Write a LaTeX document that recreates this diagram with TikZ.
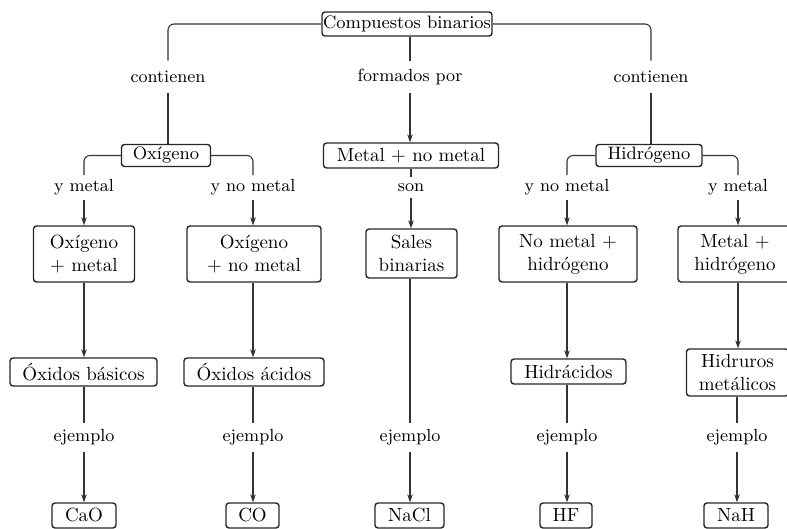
\documentclass[tikz,border=0pt]{standalone}
\usetikzlibrary{arrows.meta}
\begin{document}
\begin{tikzpicture}[x=0.5pt,y=-0.5pt,
  box/.style={draw=black!85, line width=0.7pt, rounded corners=1.5pt, inner sep=0pt, align=center},
  bigbox/.style={box, font=\fontsize{9.5}{11.6}\selectfont},
  smallbox/.style={box, font=\fontsize{9}{11}\selectfont},
  lab/.style={inner sep=0pt, font=\fontsize{8.8}{10.5}\selectfont},
  conn/.style={draw=black!80, line width=0.55pt},
  arr/.style={conn, -{Stealth[length=4pt,width=2.8pt]}},
  corner/.style={conn, rounded corners=3pt}]
\useasboundingbox (0,0) rectangle (787,529);
% level 0
\node[smallbox, minimum width=85pt, minimum height=12pt] (comp) at (407,24) {Compuestos binarios};
% labels level 1
\node[lab, minimum height=16pt] (contL) at (168,77) {contienen};
\node[lab, minimum height=16pt] (form) at (410,77) {formados por};
\node[lab, minimum height=16pt] (contR) at (651,77) {contienen};
% level 1 boxes
\node[smallbox, minimum width=44.5pt, minimum height=11pt] (oxi) at (166,155.5) {Oxígeno};
\node[bigbox, minimum width=87.5pt, minimum height=12.5pt] (mnm) at (411,155.5) {Metal + no metal};
\node[smallbox, minimum width=53pt, minimum height=11pt] (hid) at (649,155.5) {Hidrógeno};
% labels level 2
\node[lab, minimum height=12pt] (ymL) at (84,187.5) {y metal};
\node[lab, minimum height=12pt] (ynL) at (253,187.5) {y no metal};
\node[lab, minimum height=10.5pt] (son) at (411,187.5) {son};
\node[lab, minimum height=12pt] (ynR) at (567,187.5) {y no metal};
\node[lab, minimum height=12pt] (ymR) at (738,187.5) {y metal};
% level 2 boxes
\node[bigbox, minimum width=50.5pt, minimum height=28pt] (oxm) at (84,254) {Oxígeno\\+ metal};
\node[bigbox, minimum width=67pt, minimum height=28pt] (oxnm) at (254,254) {Oxígeno\\+ no metal};
\node[bigbox, minimum width=45.5pt, minimum height=24.5pt] (sales) at (411.5,253.5) {Sales\\binarias};
\node[bigbox, minimum width=69pt, minimum height=28pt] (nmh) at (568,254) {No metal +\\hidrógeno};
\node[bigbox, minimum width=57pt, minimum height=28pt] (mh) at (735,254) {Metal +\\hidrógeno};
% level 3 boxes
\node[bigbox, minimum width=73.5pt, minimum height=14pt] (obas) at (83.5,372) {Óxidos básicos};
\node[bigbox, minimum width=70pt, minimum height=14pt] (oac) at (254,372) {Óxidos ácidos};
\node[bigbox, minimum width=57.5pt, minimum height=12.5pt] (hac) at (568.5,371.5) {Hidrácidos};
\node[bigbox, minimum width=51pt, minimum height=23.5pt] (hmet) at (737.5,372.5) {Hidruros\\metálicos};
% ejemplo labels
\node[lab, minimum height=14.5pt] (e1) at (84,437.5) {ejemplo};
\node[lab, minimum height=14.5pt] (e2) at (253,437.5) {ejemplo};
\node[lab, minimum height=14.5pt] (e3) at (410,437.5) {ejemplo};
\node[lab, minimum height=14.5pt] (e4) at (567,437.5) {ejemplo};
\node[lab, minimum height=14.5pt] (e5) at (737,437.5) {ejemplo};
% bottom boxes
\node[bigbox, minimum width=32pt, minimum height=12.5pt] (cao) at (84,515.5) {CaO};
\node[bigbox, minimum width=26.5pt, minimum height=12.5pt] (co) at (252.5,515.5) {CO};
\node[bigbox, minimum width=34.5pt, minimum height=12.5pt] (nacl) at (409.5,515.5) {NaCl};
\node[bigbox, minimum width=26pt, minimum height=12.5pt] (hf) at (566,515.5) {HF};
\node[bigbox, minimum width=32pt, minimum height=12.5pt] (nah) at (736,515.5) {NaH};
% connectors level 0 -> 1
\draw[corner] (comp.west) -| (contL.north);
\draw[conn] (contL.south) -- (contL.south |- oxi.north);
\draw[conn] (form.north |- comp.south) -- (form.north);
\draw[arr] (form.south) -- (form.south |- mnm.north);
\draw[corner] (comp.east) -| (contR.north);
\draw[conn] (contR.south) -- (contR.south |- hid.north);
% level 1 -> 2
\draw[corner] (oxi.west) -| (ymL.north);
\draw[corner] (oxi.east) -| (ynL.north);
\draw[conn] (son.north |- mnm.south) -- (son.north);
\draw[corner] (hid.west) -| (ynR.north);
\draw[corner] (hid.east) -| (ymR.north);
\draw[arr] (ymL.south) -- (ymL.south |- oxm.north);
\draw[arr] (ynL.south) -- (ynL.south |- oxnm.north);
\draw[arr] (son.south) -- (son.south |- sales.north);
\draw[arr] (ynR.south) -- (ynR.south |- nmh.north);
\draw[arr] (ymR.south) -- (ymR.south |- mh.north);
% level 2 -> 3
\draw[arr] (ymL.south |- oxm.south) -- (ymL.south |- obas.north);
\draw[arr] (ynL.south |- oxnm.south) -- (ynL.south |- oac.north);
\draw[arr] (ynR.south |- nmh.south) -- (ynR.south |- hac.north);
\draw[arr] (ymR.south |- mh.south) -- (ymR.south |- hmet.north);
% level 3 -> ejemplo
\draw[conn] (e1.north |- obas.south) -- (e1.north);
\draw[conn] (e2.north |- oac.south) -- (e2.north);
\draw[conn] (e3.north |- sales.south) -- (e3.north);
\draw[conn] (e4.north |- hac.south) -- (e4.north);
\draw[conn] (e5.north |- hmet.south) -- (e5.north);
% ejemplo -> examples
\draw[arr] (e1.south) -- (e1.south |- cao.north);
\draw[arr] (e2.south) -- (e2.south |- co.north);
\draw[arr] (e3.south) -- (e3.south |- nacl.north);
\draw[arr] (e4.south) -- (e4.south |- hf.north);
\draw[arr] (e5.south) -- (e5.south |- nah.north);
\end{tikzpicture}
\end{document}
